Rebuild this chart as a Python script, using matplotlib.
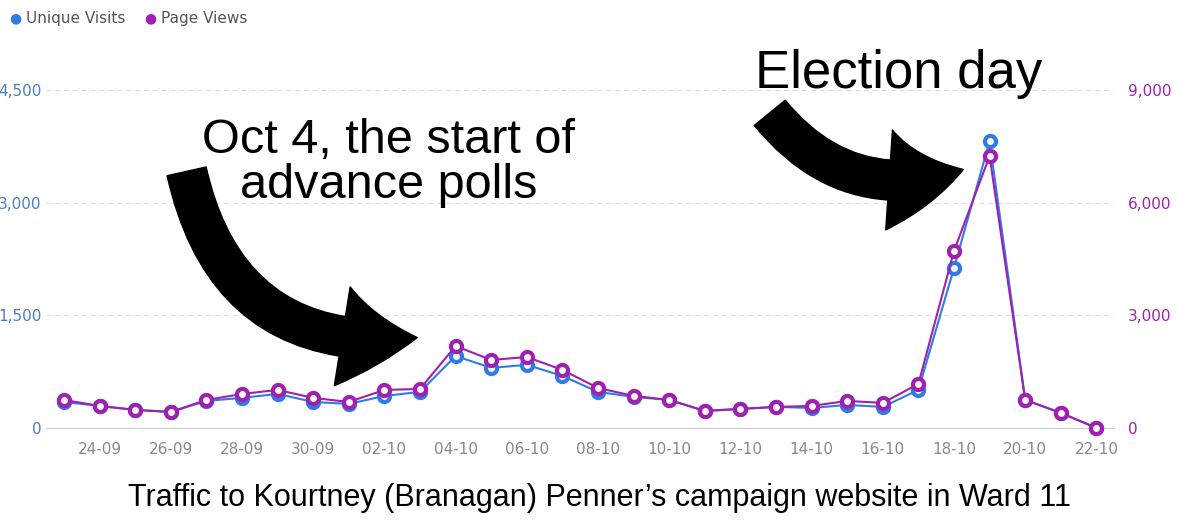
import matplotlib
matplotlib.use("Agg")
import matplotlib.pyplot as plt
from matplotlib.patches import FancyArrowPatch
import numpy as np

dates = ["23-09","24-09","25-09","26-09","27-09","28-09","29-09","30-09","01-10","02-10",
         "03-10","04-10","05-10","06-10","07-10","08-10","09-10","10-10","11-10","12-10",
         "13-10","14-10","15-10","16-10","17-10","18-10","19-10","20-10","21-10","22-10"]
unique_visits = [346,293,240,213,360,400,453,346,320,426,480,958,800,840,693,480,413,373,226,253,
                 280,266,306,280,506,2130,3820,373,200,0]
page_views = [745,586,480,426,745,905,1012,800,692,1012,1038,2183,1810,1890,1545,1065,852,746,453,506,
              560,586,719,666,1172,4713,7243,746,400,0]

blue = "#2f7be8"
purple = "#a020b0"
fig = plt.figure(figsize=(12, 5.27), dpi=100)
ax = fig.add_axes([0.0385, 0.188, 0.89, 0.641])
ax2 = ax.twinx()
x = np.arange(len(dates))
ax.plot(x, unique_visits, color=blue, lw=1.5, marker="o", ms=8, mfc="white", mec=blue, mew=3, clip_on=False, zorder=3)
ax2.plot(x, page_views, color=purple, lw=1.5, marker="o", ms=8, mfc="white", mec=purple, mew=3, clip_on=False, zorder=4)
ax.set_ylim(0, 4500); ax2.set_ylim(0, 9000)
ax.set_xlim(-0.5, 29.5)
ax.set_yticks([0,1500,3000,4500]); ax.set_yticklabels(["0","1,500","3,000","4,500"])
ax2.set_yticks([0,3000,6000,9000]); ax2.set_yticklabels(["0","3,000","6,000","9,000"])
ax.set_xticks(x[1::2]); ax.set_xticklabels(dates[1::2])
ax.tick_params(axis="x", colors="#888888", labelsize=11, length=0, pad=10)
ax.tick_params(axis="y", colors="#4a7fc8", labelsize=11, length=0)
ax2.tick_params(axis="y", colors="#a020b0", labelsize=11, length=0, pad=10)
ax.yaxis.grid(True, ls=(0,(4,4)), color="#dddddd")
for a in (ax, ax2):
    for s in a.spines.values(): s.set_visible(False)
ax.spines["bottom"].set_visible(True); ax.spines["bottom"].set_color("#cccccc")

fig.text(0.008, 0.965, "●", color=blue, fontsize=10, va="center")
fig.text(0.022, 0.965, "Unique Visits", color="#555555", fontsize=11, va="center")
fig.text(0.12, 0.965, "●", color=purple, fontsize=10, va="center")
fig.text(0.134, 0.965, "Page Views", color="#555555", fontsize=11, va="center")

fam = ["Liberation Sans", "DejaVu Sans"]
fig.text(0.324, 0.69, "Oct 4, the start of\nadvance polls", fontsize=35, ha="center", va="center", family=fam, linespacing=1.0)
fig.text(0.749, 0.86, "Election day", fontsize=38, ha="center", va="center", family=fam)
fig.text(0.5, 0.055, "Traffic to Kourtney (Branagan) Penner\u2019s campaign website in Ward 11", fontsize=22, ha="center", va="center", family=fam)

a1 = FancyArrowPatch((0.155, 0.68), (0.35, 0.36), transform=fig.transFigure,
                     connectionstyle="arc3,rad=0.45", arrowstyle="simple,head_width=4,tail_width=1.6,head_length=3",
                     mutation_scale=18, color="black")
fig.patches.append(a1)
a2 = FancyArrowPatch((0.64, 0.79), (0.805, 0.68), transform=fig.transFigure,
                     connectionstyle="arc3,rad=0.35", arrowstyle="simple,head_width=4,tail_width=1.6,head_length=3",
                     mutation_scale=18, color="black")
fig.patches.append(a2)
fig.savefig("out.png", dpi=100)
